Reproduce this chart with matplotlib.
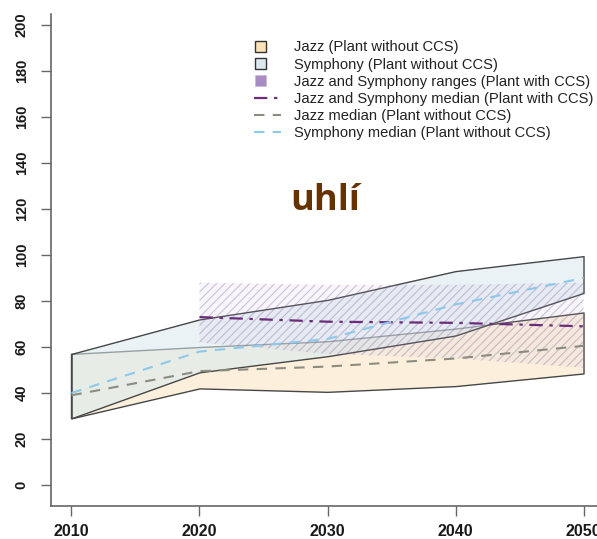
import matplotlib
matplotlib.use("Agg")
import matplotlib.pyplot as plt
from matplotlib.patches import Rectangle, Patch
from matplotlib.lines import Line2D
from matplotlib.legend_handler import HandlerPatch

# ---- data ----
years = [2010, 2020, 2030, 2040, 2050]
jazz_low = [29, 42, 40.5, 43, 48.5]
jazz_high = [57, 60, 62.5, 68, 75]
sym_low = [29, 49, 56, 65, 83.5]
sym_high = [57, 72, 80.5, 93, 99.5]
ccs_years = [2020, 2030, 2040, 2050]
ccs_low = [62, 57, 55, 51]
ccs_high = [88, 87, 87, 88]
ccs_median = [73, 71, 70.5, 69]
jazz_median = [39, 49.5, 51.5, 55, 60.5]
sym_median = [40, 58, 63.5, 78.5, 90]

x_ticks = [2010, 2020, 2030, 2040, 2050]
y_ticks = [0, 20, 40, 60, 80, 100, 120, 140, 160, 180, 200]
legend_labels = [
    "Jazz (Plant without CCS)",
    "Symphony (Plant without CCS)",
    "Jazz and Symphony ranges (Plant with CCS)",
    "Jazz and Symphony median (Plant with CCS)",
    "Jazz median (Plant without CCS)",
    "Symphony median (Plant without CCS)",
]
title = "uhlí"

# ---- styles ----
plt.rcParams['hatch.linewidth'] = 0.8
W, H = 597, 539
fig = plt.figure(figsize=(W / 100, H / 100), dpi=100)
ax = fig.add_axes([51 / W, (H - 505.7) / H, 553 / W, 492.2 / H])
ax.set_xlim(2008.4, 2051.6)
ax.set_ylim(-9, 205)

edge = (0.28, 0.28, 0.28)
jazz_col = (252 / 255, 240 / 255, 220 / 255)
sym_col = (217 / 255, 233 / 255, 239 / 255, 0.55)
hatch_col = (110 / 255, 85 / 255, 145 / 255, 0.32)
tint_col = (200 / 255, 180 / 255, 225 / 255, 0.12)
ccs_med_col = "#6B2C7A"
jazz_med_col = "#8C8C80"
sym_med_col = "#8EC8EA"

ax.fill_between(years, jazz_low, jazz_high, facecolor=jazz_col,
                edgecolor=edge, linewidth=1.0, zorder=1)
ax.plot([years[0], years[0]], [jazz_low[0], jazz_high[0]], color=edge, lw=1.0, zorder=1)
ax.fill_between(years, sym_low, sym_high, facecolor=sym_col,
                edgecolor=edge, linewidth=1.0, zorder=2)
ax.fill_between(ccs_years, ccs_low, ccs_high, facecolor=tint_col,
                edgecolor='none', linewidth=0, zorder=3)
ax.fill_between(ccs_years, ccs_low, ccs_high, facecolor='none',
                edgecolor=hatch_col, hatch='////', linewidth=0, zorder=3)

ax.plot(ccs_years, ccs_median, color=ccs_med_col, lw=1.6,
        dashes=(6, 3, 1.5, 3), zorder=5)
ax.plot(years, jazz_median, color=jazz_med_col, lw=1.5,
        dashes=(5, 4), zorder=5)
ax.plot(years, sym_median, color=sym_med_col, lw=1.5,
        dashes=(5, 4), zorder=5)

# axes styling
for s in ['top', 'right']:
    ax.spines[s].set_visible(False)
for s in ['left', 'bottom']:
    ax.spines[s].set_color('#666666')
    ax.spines[s].set_linewidth(1.2)
ax.set_xticks(x_ticks)
ax.set_yticks(y_ticks)
ax.set_xticklabels([str(v) for v in x_ticks])
ax.set_yticklabels([str(v) for v in y_ticks], rotation=90, va='center')
for lab in ax.get_xticklabels():
    lab.set_fontfamily('Liberation Sans')
    lab.set_fontweight('bold')
    lab.set_fontsize(11.5)
    lab.set_color('#1a1a1a')
for lab in ax.get_yticklabels():
    lab.set_fontfamily('Liberation Sans')
    lab.set_fontweight('bold')
    lab.set_fontsize(10.5)
    lab.set_color('#1a1a1a')
ax.tick_params(axis='both', color='#666666', width=1.0, length=7)
ax.tick_params(axis='x', pad=6)
ax.tick_params(axis='y', pad=9)

# legend
def small_square(legend, orig_handle, xdescent, ydescent, width, height, fontsize):
    s = 7.5
    return Rectangle((-xdescent + 1, -ydescent + (height - s) / 2), s, s)

handles = [
    Patch(facecolor="#FBE3B8", edgecolor="#333333", linewidth=1.0),
    Patch(facecolor="#DCEAF0", edgecolor="#333333", linewidth=1.0),
    Patch(facecolor="#A88BC0", edgecolor="#C9B8D8", linewidth=0.5),
    Line2D([], [], color=ccs_med_col, lw=1.6, dashes=(6, 3, 1.5, 3)),
    Line2D([], [], color=jazz_med_col, lw=1.5, dashes=(5, 4)),
    Line2D([], [], color=sym_med_col, lw=1.5, dashes=(5, 4)),
]
hp = HandlerPatch(patch_func=small_square)
leg = fig.legend(handles, legend_labels, loc='upper left',
                 bbox_to_anchor=(254 / W, 1 - 40.5 / H),
                 bbox_transform=fig.transFigure, frameon=False,
                 prop=dict(family='Liberation Sans', size=10.6),
                 handlelength=1.85, handletextpad=0.9, labelspacing=0.215,
                 borderpad=0, borderaxespad=0,
                 handler_map={h: hp for h in handles[:3]})
for t in leg.get_texts():
    t.set_color('#222222')

fig.text(325 / W, 1 - 201 / H, title, ha='center', va='center',
         family='Open Sans', weight='bold', size=26, color='#663300')

fig.savefig('out.png', dpi=100)
